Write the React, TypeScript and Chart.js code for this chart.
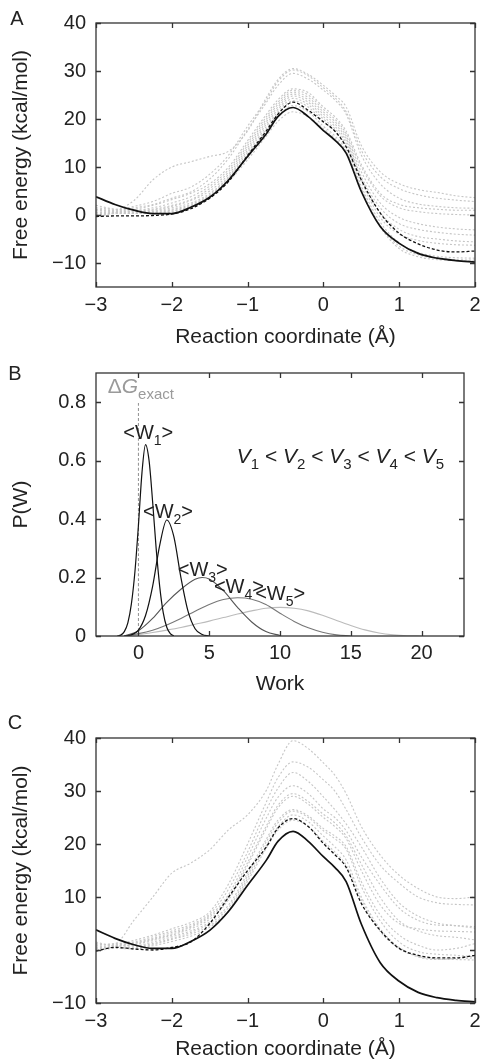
import React, { useEffect, useRef } from 'react';
import { Chart, registerables } from 'chart.js';
Chart.register(...registerables);

const FONT = '"Liberation Sans", Arial, Helvetica, sans-serif';
const TEXT = '#222';
const GRAY = '#c6c6c6';

// ---------- Panels A and C: reaction coordinate grid ----------
const coordX = [-3, -2.75, -2.5, -2.25, -2, -1.75, -1.5, -1.25, -1, -0.75, -0.6, -0.4, -0.2, 0, 0.15, 0.3, 0.5, 0.75, 1, 1.25, 1.5, 1.75, 2];

// exact free energy profile (solid black, same in A and C)
const exactPMF = [3.8, 2.2, 1.0, 0.3, 0.3, 1.6, 3.7, 7.3, 12.2, 17.0, 20.5, 22.4, 20.5, 17.6, 15.6, 12.9, 4.9, -2.4, -5.9, -8.0, -9.0, -9.5, -9.8];

// Panel A: averaged estimate (black dashed)
const aEstimate = [-0.3, -0.2, -0.2, -0.1, 0.2, 1.3, 3.5, 7.0, 12.4, 17.6, 21.0, 23.5, 21.8, 19.4, 17.5, 14.2, 7.3, 0.4, -3.8, -6.0, -7.3, -7.7, -7.5];

// Panel A: individual pulls (gray dotted)
const aPull1 = [1.5, 1.2, 3.0, 7.3, 10.0, 11.1, 12.2, 13.3, 17.5, 24.5, 28.2, 30.5, 29.3, 27.0, 25.0, 22.5, 14.5, 9.0, 6.5, 5.3, 4.7, 4.0, 3.6];
const aPull2 = [0.8, 1.0, 1.8, 2.8, 4.5, 5.8, 8.5, 12.5, 18.5, 24.0, 27.8, 30.2, 29.0, 26.5, 24.5, 21.5, 13.5, 8.0, 5.5, 4.2, 3.5, 3.1, 2.8];
const aPull3 = [1.2, 1.0, 1.5, 2.2, 3.5, 4.8, 7.5, 11.8, 17.8, 23.5, 27.0, 29.5, 28.3, 26.0, 24.0, 21.0, 12.5, 6.5, 3.5, 2.3, 1.8, 1.5, 1.4];
const aPull4 = [0.5, 0.8, 1.2, 2.0, 3.2, 4.5, 6.5, 10.0, 15.5, 21.0, 24.0, 26.3, 25.5, 22.5, 20.5, 17.5, 10.5, 4.5, 2.2, 1.5, 1.2, 1.0, 1.0];
const aPull5 = [2.0, 1.2, 1.0, 1.5, 2.5, 3.8, 6.0, 9.5, 15.0, 20.5, 23.5, 26.0, 25.0, 22.0, 20.0, 17.0, 10.0, 4.0, 1.5, 0.7, 0.3, 0.1, 0.0];
const aPull6 = [0.2, 0.6, 0.8, 1.2, 2.0, 3.2, 5.5, 9.0, 14.5, 20.0, 23.0, 25.6, 24.5, 21.5, 19.5, 16.5, 9.0, 2.5, -0.5, -1.8, -2.5, -2.9, -3.1];
const aPull7 = [-0.3, 0.5, 0.7, 1.0, 1.8, 3.0, 5.0, 8.5, 14.0, 19.5, 22.5, 25.2, 24.0, 21.0, 19.0, 16.0, 8.0, 1.5, -1.8, -3.0, -3.6, -4.0, -4.2];
const aPull8 = [1.0, 0.8, 0.6, 0.8, 1.5, 2.5, 4.5, 8.0, 13.5, 19.0, 22.0, 24.8, 23.5, 20.5, 18.5, 15.5, 7.5, 0.5, -3.0, -4.5, -5.0, -5.4, -5.6];
const aPull9 = [0.0, 0.4, 0.5, 0.7, 1.2, 2.2, 4.2, 7.8, 13.0, 18.5, 21.5, 24.3, 23.0, 20.0, 18.0, 15.0, 7.0, -0.5, -4.0, -5.3, -5.9, -6.2, -6.3];
const aPull10 = [0.5, 0.6, 0.4, 0.5, 1.0, 2.0, 4.0, 7.5, 12.5, 18.0, 21.0, 23.8, 22.5, 19.5, 17.5, 14.5, 6.0, -1.5, -5.8, -7.8, -8.6, -8.9, -9.0];
const aPull11 = [-0.5, 0.3, 0.3, 0.4, 0.8, 1.8, 3.8, 7.2, 12.0, 17.5, 20.5, 22.8, 21.5, 18.5, 16.5, 13.5, 5.5, -2.2, -6.5, -8.3, -9.0, -9.3, -9.4];
const aPull12 = [0.2, 0.4, 0.3, 0.3, 0.6, 1.6, 3.6, 7.0, 11.5, 16.5, 19.5, 21.5, 20.5, 18.0, 16.0, 13.0, 5.0, -2.5, -7.0, -8.7, -9.3, -9.5, -9.6];

// Panel C: averaged estimate (black dashed)
const cEstimate = [-0.2, 0.5, 0.2, 0.0, 0.5, 1.5, 5.0, 10.0, 15.0, 19.5, 23.0, 24.8, 23.3, 20.1, 18.0, 15.6, 8.8, 3.7, 0.3, -1.0, -1.5, -1.5, -1.0];

// Panel C: individual pulls (gray dotted)
const cPull1 = [1.0, 1.2, 5.6, 10.0, 14.5, 16.4, 18.9, 22.7, 25.5, 30.2, 35.0, 39.5, 38.0, 35.3, 33.0, 29.5, 23.3, 17.9, 14.1, 11.6, 10.0, 9.7, 10.0];
const cPull2 = [0.5, 1.0, 1.8, 2.8, 4.0, 5.2, 7.2, 12.5, 20.0, 28.0, 32.5, 35.5, 34.5, 32.1, 30.0, 26.5, 21.3, 16.0, 12.6, 10.0, 8.9, 8.6, 8.5];
const cPull3 = [0.8, 1.2, 1.5, 2.5, 3.6, 4.8, 6.8, 11.5, 18.5, 26.5, 30.5, 33.5, 31.8, 28.9, 26.5, 23.8, 19.5, 13.5, 8.9, 6.4, 5.1, 4.6, 4.1];
const cPull4 = [1.2, 1.0, 1.3, 2.2, 3.3, 4.5, 6.5, 10.5, 17.5, 25.0, 28.8, 31.0, 29.5, 26.6, 25.0, 22.5, 17.6, 12.3, 7.9, 5.6, 4.7, 4.6, 4.4];
const cPull5 = [0.3, 0.8, 1.2, 2.0, 3.0, 4.3, 6.2, 10.0, 16.5, 23.5, 27.3, 29.5, 28.0, 25.6, 24.0, 21.5, 16.2, 9.9, 5.5, 3.6, 2.7, 2.4, 1.9];
const cPull6 = [-0.3, 0.6, 1.0, 1.8, 2.8, 4.0, 5.8, 9.5, 16.0, 23.0, 26.8, 29.0, 27.5, 25.0, 23.3, 21.0, 15.0, 8.5, 5.0, 4.0, 3.6, 3.5, 3.4];
const cPull7 = [1.5, 0.8, 0.8, 1.5, 2.5, 3.6, 5.3, 8.5, 14.5, 21.0, 24.5, 26.5, 25.3, 22.9, 21.5, 19.5, 12.9, 6.6, 2.8, 0.9, 0.0, 0.3, 1.2];
const cPull8 = [0.2, 0.5, 0.6, 1.2, 2.2, 3.3, 5.0, 8.0, 14.0, 20.5, 24.0, 26.2, 25.0, 22.5, 21.0, 19.0, 12.0, 5.5, 1.5, -0.3, -0.8, -1.0, -1.3];
const cPull9 = [0.6, 0.4, 0.4, 1.0, 2.0, 3.0, 4.6, 7.5, 13.5, 19.8, 23.2, 25.5, 24.2, 21.5, 19.5, 17.0, 10.0, 4.0, 0.5, -1.2, -1.7, -1.8, -1.9];
const cPull10 = [-0.2, 0.3, 0.2, 0.8, 1.6, 2.6, 4.3, 7.3, 13.0, 19.3, 22.6, 24.5, 23.3, 20.5, 18.5, 16.0, 9.5, 3.5, 0.3, -1.3, -1.8, -1.6, -1.5];

const xTicksAC = [-3, -2, -1, 0, 1, 2];
const yTicksA = [-10, 0, 10, 20, 30, 40];
const yTicksC = [-10, 0, 10, 20, 30, 40];

// ---------- Panel B: work distributions ----------
const w1X = [-1.5, -1.25, -1, -0.75, -0.5, -0.25, 0, 0.25, 0.5, 0.75, 1, 1.25, 1.5, 1.75, 2, 2.25, 2.5];
const w1Y = [0, 0.003, 0.015, 0.045, 0.11, 0.22, 0.38, 0.56, 0.655, 0.6, 0.46, 0.3, 0.17, 0.08, 0.03, 0.008, 0];
const w2X = [-1, -0.5, 0, 0.5, 1, 1.5, 2, 2.5, 3, 3.5, 4, 4.5, 5];
const w2Y = [0, 0.004, 0.02, 0.07, 0.17, 0.31, 0.397, 0.34, 0.2, 0.085, 0.025, 0.005, 0];
const w3X = [-1, 0, 1, 2, 3, 4, 4.5, 5, 6, 7, 8, 9, 10];
const w3Y = [0, 0.018, 0.06, 0.115, 0.16, 0.194, 0.2, 0.195, 0.155, 0.098, 0.048, 0.015, 0.002];
const w4X = [-1, 0, 1, 2, 3, 4, 5, 6, 7, 8, 9, 10, 11, 12, 13, 14, 15];
const w4Y = [0, 0.008, 0.02, 0.038, 0.06, 0.085, 0.108, 0.125, 0.131, 0.126, 0.108, 0.078, 0.05, 0.028, 0.013, 0.004, 0];
const w5X = [-1, 0, 1, 2, 3, 4, 5, 6, 7, 8, 9, 10, 11, 12, 13, 14, 15, 16, 17, 18, 19, 20];
const w5Y = [0, 0.005, 0.012, 0.02, 0.029, 0.04, 0.051, 0.063, 0.075, 0.086, 0.095, 0.098, 0.095, 0.086, 0.071, 0.053, 0.036, 0.021, 0.01, 0.004, 0.001, 0];
const dGExactX = [0, 0];
const dGExactY = [0, 0.8];

const xTicksB = [0, 5, 10, 15, 20];
const yTicksB = [0, 0.2, 0.4, 0.6, 0.8];

type Part = { t: string; sub?: boolean; it?: boolean };
type Note = { parts: Part[]; x: number; y: number; size: number; color: string; align: 'center' | 'left' };

const bNotes: Note[] = [
  { parts: [{ t: 'Δ' }, { t: 'G', it: true }, { t: 'exact', sub: true }], x: -2.17, y: 0.831, size: 21, color: '#9a9a9a', align: 'left' },
  { parts: [{ t: '<W' }, { t: '1', sub: true }, { t: '>' }], x: 0.69, y: 0.673, size: 20, color: TEXT, align: 'center' },
  { parts: [{ t: '<W' }, { t: '2', sub: true }, { t: '>' }], x: 2.09, y: 0.405, size: 20, color: TEXT, align: 'center' },
  { parts: [{ t: '<W' }, { t: '3', sub: true }, { t: '>' }], x: 4.54, y: 0.207, size: 20, color: TEXT, align: 'center' },
  { parts: [{ t: '<W' }, { t: '4', sub: true }, { t: '>' }], x: 7.1, y: 0.147, size: 20, color: TEXT, align: 'center' },
  { parts: [{ t: '<W' }, { t: '5', sub: true }, { t: '>' }], x: 10.01, y: 0.122, size: 20, color: TEXT, align: 'center' },
  {
    parts: [
      { t: 'V', it: true }, { t: '1', sub: true }, { t: ' < ' },
      { t: 'V', it: true }, { t: '2', sub: true }, { t: ' < ' },
      { t: 'V', it: true }, { t: '3', sub: true }, { t: ' < ' },
      { t: 'V', it: true }, { t: '4', sub: true }, { t: ' < ' },
      { t: 'V', it: true }, { t: '5', sub: true },
    ], x: 14.27, y: 0.593, size: 21, color: TEXT, align: 'center',
  },
];

function fontFor(p: Part, size: number) {
  const s = p.sub ? Math.round(size * 0.72) : size;
  return `${p.it ? 'italic ' : ''}${s}px ${FONT}`;
}

function drawRich(ctx: CanvasRenderingContext2D, n: Note, px: number, py: number) {
  ctx.save();
  ctx.fillStyle = n.color;
  ctx.textBaseline = 'alphabetic';
  ctx.textAlign = 'left';
  const widths = n.parts.map((p) => { ctx.font = fontFor(p, n.size); return ctx.measureText(p.t).width; });
  const total = widths.reduce((a, b) => a + b, 0);
  let x = n.align === 'center' ? px - total / 2 : px;
  n.parts.forEach((p, i) => {
    ctx.font = fontFor(p, n.size);
    ctx.fillText(p.t, x, py + (p.sub ? n.size * 0.3 : 0));
    x += widths[i];
  });
  ctx.restore();
}

const framePlugin = {
  id: 'frame',
  afterDatasetsDraw(chart: any) {
    const { ctx, chartArea, scales } = chart;
    const { left, top, right, bottom } = chartArea;
    const cfg = chart.options.plugins.frame;
    ctx.save();
    ctx.strokeStyle = '#333';
    ctx.lineWidth = 1.3;
    const L = 5;
    ctx.beginPath();
    (cfg.xTicks as number[]).forEach((v) => {
      const p = Math.round(scales.x.getPixelForValue(v)) + 0.5;
      ctx.moveTo(p, bottom); ctx.lineTo(p, bottom - L);
      ctx.moveTo(p, top); ctx.lineTo(p, top + L);
    });
    (cfg.yTicks as number[]).forEach((v) => {
      const p = Math.round(scales.y.getPixelForValue(v)) + 0.5;
      ctx.moveTo(left, p); ctx.lineTo(left + L, p);
      ctx.moveTo(right, p); ctx.lineTo(right - L, p);
    });
    ctx.stroke();
    ctx.strokeRect(left, top, right - left, bottom - top);
    if (cfg.notes) {
      (cfg.notes as Note[]).forEach((n) => drawRich(ctx, n, scales.x.getPixelForValue(n.x), scales.y.getPixelForValue(n.y)));
    }
    ctx.font = `20px ${FONT}`;
    ctx.fillStyle = TEXT;
    ctx.textAlign = 'center';
    ctx.textBaseline = 'middle';
    ctx.fillText(cfg.letter, cfg.letterX, cfg.letterY);
    ctx.restore();
  },
};

const fmt = (v: number) => (v < 0 ? '\u2212' + Math.abs(v) : String(v));

function line(xs: number[], ys: number[], color: string, width: number, dash: number[]) {
  return {
    data: xs.map((x, i) => ({ x, y: ys[i] })),
    borderColor: color,
    borderWidth: width,
    borderDash: dash,
    pointRadius: 0,
    fill: false,
    cubicInterpolationMode: 'monotone' as const,
  };
}

type Spec = {
  datasets: any[];
  xMin: number; xMax: number; yMin: number; yMax: number;
  xTicks: number[]; yTicks: number[];
  xTitle: string; yTitle: string;
  padTop: number; padRight: number; xAxisH: number;
  xTickPad: number; xTitlePad: number;
  letter: string; letterX: number; letterY: number;
  notes?: Note[];
};

function makeConfig(s: Spec): any {
  return {
    type: 'line',
    data: { datasets: s.datasets },
    options: {
      animation: false,
      responsive: false,
      devicePixelRatio: 1,
      layout: { padding: { top: s.padTop, right: s.padRight, left: 0, bottom: 0 } },
      plugins: {
        legend: { display: false },
        tooltip: { enabled: false },
        frame: { xTicks: s.xTicks, yTicks: s.yTicks, letter: s.letter, letterX: s.letterX, letterY: s.letterY, notes: s.notes },
      },
      scales: {
        x: {
          type: 'linear', min: s.xMin, max: s.xMax,
          afterBuildTicks: (sc: any) => { sc.ticks = s.xTicks.map((v) => ({ value: v })); },
          afterFit: (sc: any) => { sc.height = s.xAxisH; sc.paddingLeft = 0; sc.paddingRight = 0; },
          grid: { display: false, drawTicks: false },
          border: { display: false },
          ticks: { padding: s.xTickPad, color: TEXT, font: { family: FONT, size: 20 }, maxRotation: 0, autoSkip: false, callback: (v: number) => fmt(v) },
          title: { display: true, text: s.xTitle, color: TEXT, font: { family: FONT, size: 21 }, padding: { top: 0, bottom: s.xTitlePad } },
        },
        y: {
          type: 'linear', min: s.yMin, max: s.yMax,
          afterBuildTicks: (sc: any) => { sc.ticks = s.yTicks.map((v) => ({ value: v })); },
          afterFit: (sc: any) => { sc.width = 96; sc.paddingTop = 0; sc.paddingBottom = 0; },
          grid: { display: false, drawTicks: false },
          border: { display: false },
          ticks: { padding: 10, color: TEXT, font: { family: FONT, size: 20 }, autoSkip: false, callback: (v: number) => fmt(v) },
          title: { display: true, text: s.yTitle, color: TEXT, font: { family: FONT, size: 21 }, padding: { top: 9, bottom: 0 } },
        },
      },
    },
    plugins: [framePlugin],
  };
}

function pmfDatasets(estimate: number[], pulls: number[][]) {
  return [
    line(coordX, exactPMF, '#111', 1.7, []),
    line(coordX, estimate, '#111', 1.3, [3, 2]),
    ...pulls.map((p) => line(coordX, p, GRAY, 1.1, [2, 2])),
  ];
}

const specA: Spec = {
  datasets: pmfDatasets(aEstimate, [aPull1, aPull2, aPull3, aPull4, aPull5, aPull6, aPull7, aPull8, aPull9, aPull10, aPull11, aPull12]),
  xMin: -3, xMax: 2, yMin: -15, yMax: 40, xTicks: xTicksAC, yTicks: yTicksA,
  xTitle: 'Reaction coordinate (Å)', yTitle: 'Free energy (kcal/mol)',
  padTop: 23, padRight: 8, xAxisH: 63, xTickPad: 6, xTitlePad: 0,
  letter: 'A', letterX: 17, letterY: 19,
};

const specB: Spec = {
  datasets: [
    line(w1X, w1Y, '#111', 1.2, []),
    line(w2X, w2Y, '#111', 1.2, []),
    line(w3X, w3Y, '#555', 1.1, []),
    line(w4X, w4Y, '#777', 1.1, []),
    line(w5X, w5Y, '#bbb', 1.1, []),
    line(dGExactX, dGExactY, '#999', 1.1, [3, 2]),
  ],
  xMin: -3, xMax: 23, yMin: 0, yMax: 0.9, xTicks: xTicksB, yTicks: yTicksB,
  xTitle: 'Work', yTitle: 'P(W)',
  padTop: 23, padRight: 19, xAxisH: 64, xTickPad: 5, xTitlePad: 3,
  letter: 'B', letterX: 15, letterY: 24,
  notes: bNotes,
};

const specC: Spec = {
  datasets: pmfDatasets(cEstimate, [cPull1, cPull2, cPull3, cPull4, cPull5, cPull6, cPull7, cPull8, cPull9, cPull10]),
  xMin: -3, xMax: 2, yMin: -10, yMax: 40, xTicks: xTicksAC, yTicks: yTicksC,
  xTitle: 'Reaction coordinate (Å)', yTitle: 'Free energy (kcal/mol)',
  padTop: 38, padRight: 8, xAxisH: 59, xTickPad: 6, xTitlePad: 0,
  letter: 'C', letterX: 15, letterY: 23,
};

function Panel({ spec, top, height }: { spec: Spec; top: number; height: number }) {
  const ref = useRef<HTMLCanvasElement | null>(null);
  useEffect(() => {
    if (!ref.current) return;
    const chart = new Chart(ref.current, makeConfig(spec));
    return () => chart.destroy();
  }, [spec]);
  return (
    <canvas
      ref={ref}
      width={483}
      height={height}
      style={{ position: 'absolute', left: 0, top, width: 483, height, display: 'block' }}
    />
  );
}

export default function App() {
  return (
    <div style={{ position: 'absolute', left: 0, top: 0, width: 483, height: 1062, background: '#fff', overflow: 'hidden' }}>
      <Panel spec={specA} top={0} height={350} />
      <Panel spec={specB} top={350} height={350} />
      <Panel spec={specC} top={700} height={362} />
    </div>
  );
}
